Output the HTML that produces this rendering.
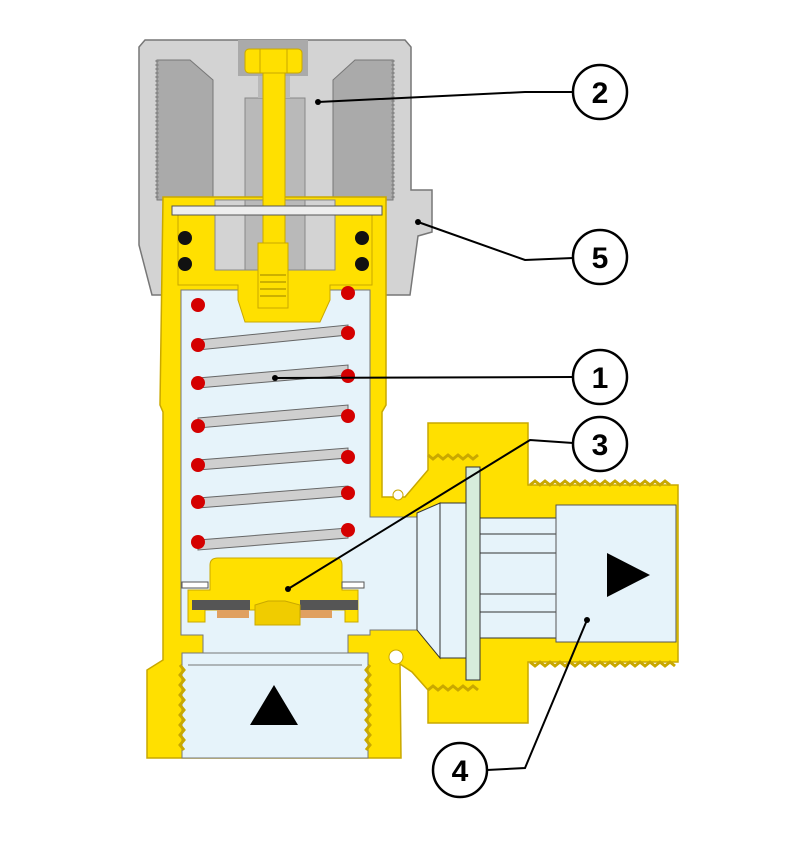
<!DOCTYPE html>
<html><head><meta charset="utf-8"><style>
html,body{margin:0;padding:0;background:#fff;}
svg{display:block}
text{font-family:"Liberation Sans",sans-serif;font-weight:bold;}
</style></head><body>
<svg width="788" height="853" viewBox="0 0 788 853" xmlns="http://www.w3.org/2000/svg">
<rect width="788" height="853" fill="#fff"/>
<!-- gray cap -->
<path d="M145 40 H405 L411 47 V190 H432 V232 L418 236 L410 295 H152 L139 245 V47 Z" fill="#d3d3d3" stroke="#777" stroke-width="1.5"/>
<path d="M157 60 H190 L213 80 V200 H157 Z" fill="#aaaaaa" stroke="#777"/>
<path d="M333 80 L355 60 H393 V200 H333 Z" fill="#aaaaaa" stroke="#777"/>
<path d="M157 60 V200 M393 60 V200" stroke="#888" stroke-width="3" stroke-dasharray="2 2"/>
<rect x="238" y="40" width="70" height="36" fill="#aaaaaa"/>
<rect x="245" y="98" width="60" height="172" fill="#b9b9b9" stroke="#888"/>
<rect x="258" y="76" width="32" height="22" fill="#b9b9b9"/>
<!-- yellow body -->
<path d="M163 197 H386 V405 L382 412 V497 L405 497 L428 470 V423 H528 V485 H678 V662 H528 V723 H428 V690 L412 672 L400 664 L401 758 H147 V670 L163 660 L163 412 L160 405 Z" fill="#ffe000" stroke="#c9a800" stroke-width="1.5"/>
<!-- cavity -->
<path d="M181 290 H370 V517 H417 V630 H370 V635 H348 V653 H203 V635 H181 Z" fill="#e6f3fa" stroke="#777" stroke-width="1"/>
<rect x="182" y="653" width="186" height="105" fill="#e6f3fa" stroke="#777"/>
<path d="M188 665 H362" stroke="#777"/>
<g stroke="#c9a800" stroke-width="3" fill="none">
<path d="M180 665 l4 5 l-4 5 l4 5 l-4 5 l4 5 l-4 5 l4 5 l-4 5 l4 5 l-4 5 l4 5 l-4 5 l4 5 l-4 5 l4 5 l-4 5 l4 5"/>
<path d="M370 665 l-4 5 l4 5 l-4 5 l4 5 l-4 5 l4 5 l-4 5 l4 5 l-4 5 l4 5 l-4 5 l4 5 l-4 5 l4 5 l-4 5 l4 5 l-4 5"/>
<path d="M530 485 l5 -4 l5 4 l5 -4 l5 4 l5 -4 l5 4 l5 -4 l5 4 l5 -4 l5 4 l5 -4 l5 4 l5 -4 l5 4 l5 -4 l5 4 l5 -4 l5 4 l5 -4 l5 4 l5 -4 l5 4 l5 -4 l5 4 l5 -4 l5 4 l5 -4 l5 4"/>
<path d="M530 662 l5 4 l5 -4 l5 4 l5 -4 l5 4 l5 -4 l5 4 l5 -4 l5 4 l5 -4 l5 4 l5 -4 l5 4 l5 -4 l5 4 l5 -4 l5 4 l5 -4 l5 4 l5 -4 l5 4 l5 -4 l5 4 l5 -4 l5 4 l5 -4 l5 4 l5 -4 l5 4"/>
<path d="M428 455 l5 4 l5 -4 l5 4 l5 -4 l5 4 l5 -4 l5 4 l5 -4 l5 4 l5 -4"/>
<path d="M428 690 l5 -4 l5 4 l5 -4 l5 4 l5 -4 l5 4 l5 -4 l5 4 l5 -4 l5 4"/>
</g>
<circle cx="396" cy="657" r="7" fill="#fff" stroke="#c9a800"/>
<circle cx="398" cy="495" r="5" fill="#fff" stroke="#c9a800"/>
<!-- outlet internals -->
<path d="M417 513 L440 503 V658 L417 630 Z" fill="#e6f3fa" stroke="#333"/>
<rect x="440" y="503" width="26" height="155" fill="#e6f3fa" stroke="#333"/>
<rect x="466" y="467" width="14" height="213" fill="#d6ecdc" stroke="#333"/>
<rect x="480" y="518" width="76" height="120" fill="#e6f3fa" stroke="#333"/>
<path d="M480 534 H556 M480 553 H556 M480 594 H556 M480 612 H556" stroke="#333"/>
<rect x="556" y="505" width="120" height="137" fill="#e6f3fa" stroke="#555"/>
<!-- inner yellow piston top -->
<path d="M178 210 H372 V285 H330 V300 L320 322 H245 L238 300 V285 H178 Z" fill="#ffe000" stroke="#c9a800"/>
<rect x="215" y="200" width="120" height="70" fill="#d3d3d3" stroke="#888"/>
<rect x="245" y="200" width="60" height="70" fill="#b9b9b9" stroke="#888"/>
<rect x="263" y="72" width="22" height="180" fill="#ffe000" stroke="#c9a800"/>
<rect x="245" y="49" width="57" height="24" rx="4" fill="#ffe000" stroke="#c9a800"/>
<path d="M260 49 V73 M287 49 V73" stroke="#c9a800"/>
<rect x="258" y="243" width="30" height="65" fill="#ffe000" stroke="#c9a800"/>
<path d="M260 275 H286 M260 282 H286 M260 289 H286 M260 296 H286" stroke="#9a8000"/>
<rect x="172" y="206" width="210" height="9" fill="#eee" stroke="#555"/>
<circle cx="185" cy="238" r="7" fill="#111"/><circle cx="185" cy="264" r="7" fill="#111"/>
<circle cx="362" cy="238" r="7" fill="#111"/><circle cx="362" cy="264" r="7" fill="#111"/>
<!-- spring -->
<g stroke="#666" stroke-width="1" fill="#cfcfcf">
<path d="M198 340 L348 325 L348 335 L198 350Z"/>
<path d="M198 378 L348 365 L348 375 L198 388Z"/>
<path d="M198 418 L348 405 L348 415 L198 428Z"/>
<path d="M198 460 L348 448 L348 458 L198 470Z"/>
<path d="M198 498 L348 486 L348 496 L198 508Z"/>
<path d="M198 540 L348 528 L348 538 L198 550Z"/>
</g>
<g fill="#d40000">
<circle cx="198" cy="305" r="7"/><circle cx="348" cy="293" r="7"/>
<circle cx="198" cy="345" r="7"/><circle cx="348" cy="333" r="7"/>
<circle cx="198" cy="383" r="7"/><circle cx="348" cy="376" r="7"/>
<circle cx="198" cy="426" r="7"/><circle cx="348" cy="416" r="7"/>
<circle cx="198" cy="465" r="7"/><circle cx="348" cy="457" r="7"/>
<circle cx="198" cy="502" r="7"/><circle cx="348" cy="493" r="7"/>
<circle cx="198" cy="542" r="7"/><circle cx="348" cy="530" r="7"/>
</g>
<!-- valve disc -->
<path d="M210 565 Q210 558 218 558 H335 Q342 558 342 565 V590 H358 V622 H345 V610 H300 V625 H255 V610 H205 V622 H188 V590 H210 Z" fill="#ffe000" stroke="#c9a800"/>
<rect x="182" y="582" width="26" height="6" fill="#fff" stroke="#555"/>
<rect x="342" y="582" width="22" height="6" fill="#fff" stroke="#555"/>
<rect x="192" y="600" width="58" height="10" fill="#555"/><rect x="300" y="600" width="58" height="10" fill="#555"/>
<rect x="217" y="610" width="32" height="8" fill="#e0a060"/><rect x="300" y="610" width="32" height="8" fill="#e0a060"/>
<path d="M255 605 L268 601 H285 L300 605 V625 H255 Z" fill="#f0cc00" stroke="#c9a800"/>
<!-- arrows -->
<polygon points="250,725 298,725 274,685" fill="#000"/>
<polygon points="607,553 607,597 650,575" fill="#000"/>
<!-- callouts -->
<g stroke="#000" stroke-width="2" fill="none">
<path d="M318 102 L525 92 L573 92"/>
<path d="M418 222 L525 260 L573 258"/>
<path d="M275 378 L573 377"/>
<path d="M288 589 L530 440 L573 443"/>
<path d="M587 620 L525 768 L487 770"/>
</g>
<g fill="#fff" stroke="#000" stroke-width="2.5">
<circle cx="600" cy="92" r="27"/><circle cx="600" cy="257" r="27"/>
<circle cx="600" cy="377" r="27"/><circle cx="600" cy="444" r="27"/>
<circle cx="460" cy="770" r="27"/>
</g>
<g font-size="30" text-anchor="middle" fill="#000">
<text x="600" y="103">2</text><text x="600" y="268">5</text>
<text x="600" y="388">1</text><text x="600" y="455">3</text>
<text x="460" y="781">4</text>
</g>
<g fill="#000"><circle cx="318" cy="102" r="3"/><circle cx="418" cy="222" r="3"/><circle cx="275" cy="378" r="3"/><circle cx="288" cy="589" r="3"/><circle cx="587" cy="620" r="3"/></g>
</svg>
</body></html>
